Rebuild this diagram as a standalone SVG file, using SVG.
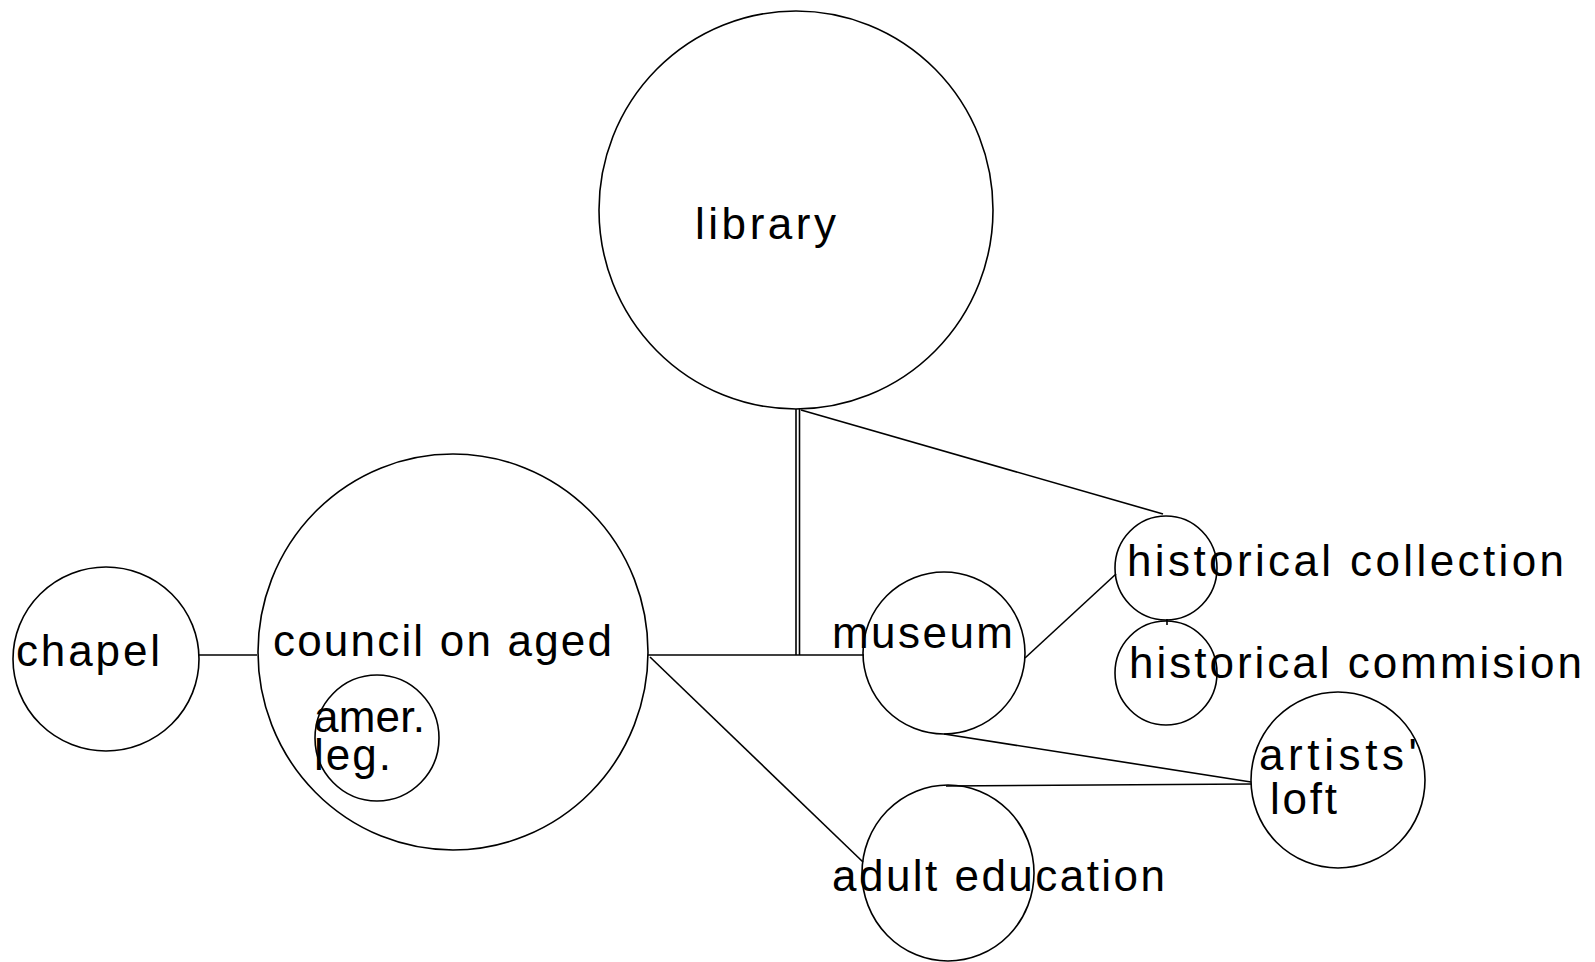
<svg xmlns="http://www.w3.org/2000/svg" width="1595" height="962" viewBox="0 0 1595 962">
<style>
.n{fill:none;stroke:#000;stroke-width:1.6}
.c line{stroke:#000;stroke-width:1.6}
text{font-family:"Liberation Sans Narrow","Liberation Sans",Arial,sans-serif;font-size:44px;fill:#000}
</style>
<rect width="1595" height="962" fill="#fff"/>
<g class="c" id="connectors">
<line x1="198" y1="655" x2="257" y2="655"/>
<line x1="648" y1="655" x2="864" y2="655"/>
<line x1="796" y1="409" x2="796" y2="655"/>
<line x1="799.5" y1="409" x2="799.5" y2="655"/>
<line x1="801" y1="410" x2="1163" y2="514"/>
<line x1="1025" y1="658" x2="1116" y2="574"/>
<line x1="1167" y1="619" x2="1167" y2="625"/>
<line x1="650" y1="657" x2="863" y2="862"/>
<line x1="944" y1="734" x2="1251" y2="782"/>
<line x1="946" y1="786" x2="1251" y2="784"/>
</g>
<g id="library"><ellipse class="n" cx="796" cy="210" rx="197" ry="199"/><text x="695" y="239" textLength="141" lengthAdjust="spacing">library</text></g>
<g id="chapel"><ellipse class="n" cx="106" cy="659" rx="93" ry="92"/><text x="16" y="666" textLength="144" lengthAdjust="spacing">chapel</text></g>
<g id="council"><ellipse class="n" cx="453" cy="652" rx="195" ry="198"/><text x="273" y="656" textLength="339" lengthAdjust="spacing">council on aged</text></g>
<g id="amerleg"><ellipse class="n" cx="377" cy="738" rx="62" ry="63"/><text x="314" y="732" textLength="111" lengthAdjust="spacing">amer.</text><text x="314" y="770" textLength="77" lengthAdjust="spacing">leg.</text></g>
<g id="museum"><ellipse class="n" cx="944" cy="653" rx="81" ry="81"/><text x="832" y="648" textLength="181" lengthAdjust="spacing">museum</text></g>
<g id="histcoll"><ellipse class="n" cx="1166" cy="568" rx="51" ry="52"/><text x="1127" y="576" textLength="437" lengthAdjust="spacing">historical collection</text></g>
<g id="histcomm"><ellipse class="n" cx="1166" cy="673" rx="51" ry="52"/><text x="1129" y="678" textLength="453" lengthAdjust="spacing">historical commision</text></g>
<g id="artists"><ellipse class="n" cx="1338" cy="780" rx="87" ry="88"/><text x="1259" y="770" textLength="158" lengthAdjust="spacing">artists'</text><text x="1270" y="814" textLength="67" lengthAdjust="spacing">loft</text></g>
<g id="adulted"><ellipse class="n" cx="948" cy="873" rx="86" ry="88"/><text x="832" y="891" textLength="333" lengthAdjust="spacing">adult education</text></g>
</svg>
